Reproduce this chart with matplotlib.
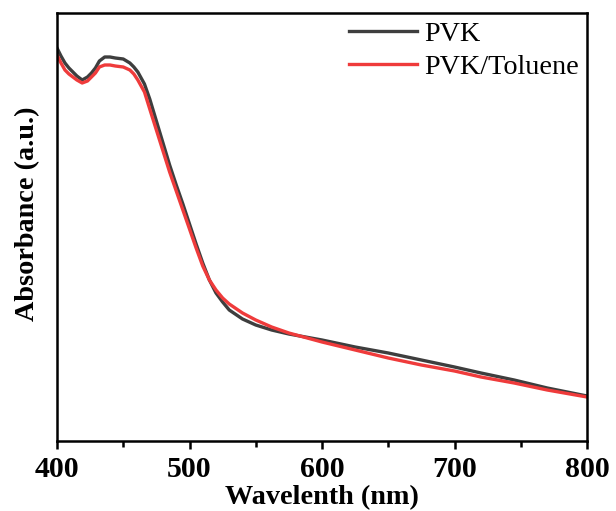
import numpy as np
import matplotlib.pyplot as plt
from matplotlib.ticker import MultipleLocator

# spettri (posizione verticale in pixel, poi convertita in u.a.)
wl = [400, 403, 406, 409, 412, 415, 419, 423, 426, 429, 432, 436, 440, 444, 450,
      455, 458, 461, 466, 470, 475, 480, 485, 490, 495, 500, 505, 510, 515, 520,
      525, 530, 540, 550, 562, 575, 600, 625, 650, 675, 700, 720, 745, 770, 800]

pvk_px = [48, 56, 63, 68, 72, 76, 80, 77, 73, 68, 61, 57, 57, 58, 59,
          63, 67, 72, 84, 99, 121, 143, 165, 185, 204, 224, 244, 263, 280, 293,
          302, 310, 319, 325, 330, 334, 340, 347, 353, 360, 367, 373, 380, 388, 396]

tol_px = [55, 63, 70, 74, 77, 80, 83, 81, 77, 73, 67, 65, 65, 66, 67,
          70, 74, 80, 92, 109, 130, 151, 172, 191, 210, 229, 248, 266, 280, 290,
          298, 304, 313, 320, 327, 333, 342, 350, 358, 365, 371, 377, 383, 390, 397]

pvk = (441 - np.array(pvk_px)) / 428
tol = (441 - np.array(tol_px)) / 428

plt.rcParams['font.family'] = ['Liberation Serif', 'DejaVu Serif']

fig = plt.figure(figsize=(6.16, 5.11), dpi=100)
ax = fig.add_axes([57 / 616, 1 - 441 / 511, 530 / 616, 428 / 511])

ax.plot(wl, pvk, color="#3e3e3e", linewidth=2.4, label="PVK", solid_joinstyle='round')
ax.plot(wl, tol, color="#ef3b3b", linewidth=2.4, label="PVK/Toluene", solid_joinstyle='round')

ax.set_xlim(400, 800)
ax.set_ylim(0, 1)
ax.xaxis.set_major_locator(MultipleLocator(100))
ax.xaxis.set_minor_locator(MultipleLocator(50))
ax.set_yticks([])

for s in ax.spines.values():
    s.set_linewidth(1.8)

ax.tick_params(axis='x', which='major', direction='out', length=6, width=1.8,
               labelsize=21.5, pad=5)
ax.tick_params(axis='x', which='minor', direction='out', length=4, width=1.8)
for lab in ax.get_xticklabels():
    lab.set_fontweight('bold')

ax.set_xlabel("Wavelenth (nm)", fontsize=20.3, fontweight='bold', labelpad=1)
ax.set_ylabel("Absorbance (a.u.)", fontsize=20.3, fontweight='bold', labelpad=12)
ax.yaxis.label.set_y(0.53)

ax.legend(loc='upper right', frameon=False, fontsize=20.3, handlelength=2.4,
          handletextpad=0.25, borderaxespad=0, borderpad=0.3, labelspacing=0.25,
          bbox_to_anchor=(1.0, 1.0))

fig.savefig("out.png", dpi=100)
